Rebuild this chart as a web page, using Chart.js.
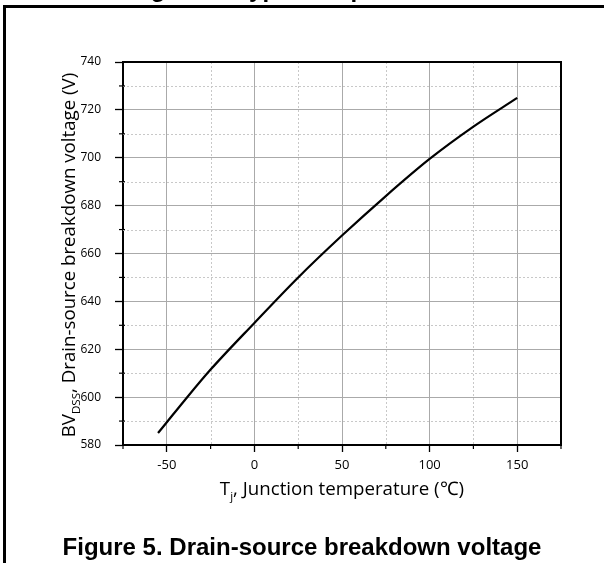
<!DOCTYPE html>
<html>
<head>
<meta charset="utf-8">
<script src="https://cdn.jsdelivr.net/npm/chart.js@4.4.1/dist/chart.umd.min.js"></script>
<style>
html,body{margin:0;padding:0;background:#fff;}
#wrap{position:relative;width:604px;height:563px;overflow:hidden;}
</style>
</head>
<body>
<div id="wrap"><canvas id="bvChart"></canvas></div>
<script>
// junction temperature (degC) and breakdown voltage (V)
const tempC = [-55, -50, -40, -25, 0, 25, 50, 75, 100, 125, 150];
const bvDss = [585, 589.5, 598.5, 611.5, 631, 650, 667.5, 684, 699.5, 713, 725];

const xTicks = [-50, 0, 50, 100, 150];
const xMinor = [-75, -25, 25, 75, 125, 175];
const yTicks = [580, 600, 620, 640, 660, 680, 700, 720, 740];
const yMinor = [590, 610, 630, 650, 670, 690, 710, 730];

const prevCaption = "Figure 3. Typical capacitances";
const caption = "Figure 5. Drain-source breakdown voltage";
const xTitle = [["T", 0], ["j", 1], [", Junction temperature (\u2103)", 0]];
const yTitle = [["BV", 0], ["DSS", 1], [", Drain-source breakdown voltage (V)", 0]];

const labelFont = '"Open Sans", sans-serif';

function drawRuns(ctx, runs, size){
  // runs drawn centred on (0,0), baseline at 0; flag 1 = subscript
  let total = 0;
  const parts = runs.map(r => {
    const s = r[1] ? size * 0.62 : size;
    ctx.font = s + 'px ' + labelFont;
    const w = ctx.measureText(r[0]).width;
    total += w;
    return {t: r[0], s: s, w: w, dy: r[1] ? size * 0.28 : 0};
  });
  let x = -total / 2;
  ctx.textAlign = 'left';
  ctx.textBaseline = 'alphabetic';
  parts.forEach(p => {
    ctx.font = p.s + 'px ' + labelFont;
    ctx.fillText(p.t, x, p.dy);
    x += p.w;
  });
}

const extras = {
  id: 'extras',
  beforeDatasetsDraw(chart){
    const {ctx, chartArea: a, scales: {x, y}} = chart;
    ctx.save();
    ctx.strokeStyle = '#c8c8c8';
    ctx.lineWidth = 1;
    ctx.setLineDash([2, 2]);
    xMinor.forEach(v => {
      const px = Math.round(x.getPixelForValue(v)) + 0.5;
      if (px <= a.left + 1 || px >= a.right - 1) return;
      ctx.beginPath(); ctx.moveTo(px, a.top); ctx.lineTo(px, a.bottom); ctx.stroke();
    });
    yMinor.forEach(v => {
      const py = Math.round(y.getPixelForValue(v)) + 0.5;
      ctx.beginPath(); ctx.moveTo(a.left, py); ctx.lineTo(a.right, py); ctx.stroke();
    });
    ctx.restore();
  },
  afterDraw(chart){
    const {ctx, chartArea: a, scales: {x, y}} = chart;
    ctx.save();
    // frame top / right
    ctx.strokeStyle = '#000';
    ctx.lineWidth = 2;
    ctx.beginPath();
    ctx.moveTo(a.left, a.top); ctx.lineTo(a.right, a.top); ctx.lineTo(a.right, a.bottom);
    ctx.stroke();
    // minor ticks
    ctx.lineWidth = 1.2;
    xMinor.forEach(v => {
      const px = x.getPixelForValue(v);
      ctx.beginPath(); ctx.moveTo(px, a.bottom); ctx.lineTo(px, a.bottom + 4); ctx.stroke();
    });
    yMinor.forEach(v => {
      const py = y.getPixelForValue(v);
      ctx.beginPath(); ctx.moveTo(a.left - 4, py); ctx.lineTo(a.left + 2, py); ctx.stroke();
    });
    // page frame (left and top rule)
    ctx.lineWidth = 3;
    ctx.beginPath();
    ctx.moveTo(4.5, 563); ctx.lineTo(4.5, 6.5); ctx.lineTo(604, 6.5);
    ctx.stroke();
    ctx.fillStyle = '#000';
    // axis titles
    ctx.save();
    ctx.translate((a.left + a.right) / 2, 495);
    drawRuns(ctx, xTitle, 18.7);
    ctx.restore();
    ctx.save();
    ctx.translate(75, 255);
    ctx.rotate(-Math.PI / 2);
    drawRuns(ctx, yTitle, 18.7);
    ctx.restore();
    // captions
    ctx.font = 'bold 24px "Liberation Sans", Arial, sans-serif';
    ctx.textAlign = 'center';
    ctx.textBaseline = 'alphabetic';
    ctx.fillText(caption, 302, 555);
    ctx.fillText(prevCaption, 302, -3);
    ctx.restore();
  }
};

new Chart(document.getElementById('bvChart'), {
  type: 'scatter',
  data: {
    datasets: [{
      label: 'BVDSS',
      data: tempC.map((t, i) => ({x: t, y: bvDss[i]})),
      showLine: true,
      borderColor: '#000',
      borderWidth: 2.2,
      pointRadius: 0,
      cubicInterpolationMode: 'monotone'
    }]
  },
  options: {
    responsive: true,
    maintainAspectRatio: false,
    animation: false,
    layout: {padding: {top: 62, right: 43, left: 0, bottom: 0}},
    plugins: {legend: {display: false}, tooltip: {enabled: false}},
    scales: {
      x: {
        type: 'linear',
        min: -75, max: 175,
        afterBuildTicks: s => { s.ticks = xTicks.map(v => ({value: v})); },
        afterFit: s => { s.height = 118; },
        grid: {color: '#aaaaaa', lineWidth: 1, tickColor: '#000', tickLength: 7, tickWidth: 1.3},
        border: {color: '#000', width: 2},
        ticks: {color: '#000', font: {family: labelFont, size: 13}, padding: 5, maxRotation: 0}
      },
      y: {
        type: 'linear',
        min: 580, max: 740,
        afterBuildTicks: s => { s.ticks = yTicks.map(v => ({value: v})); },
        afterFit: s => { s.width = 123; },
        grid: {color: '#aaaaaa', lineWidth: 1, tickColor: '#000', tickLength: 8, tickWidth: 1.3},
        border: {color: '#000', width: 2},
        ticks: {color: '#000', font: {family: labelFont, size: 12}, padding: 14}
      }
    }
  },
  plugins: [extras]
});
</script>
</body>
</html>
